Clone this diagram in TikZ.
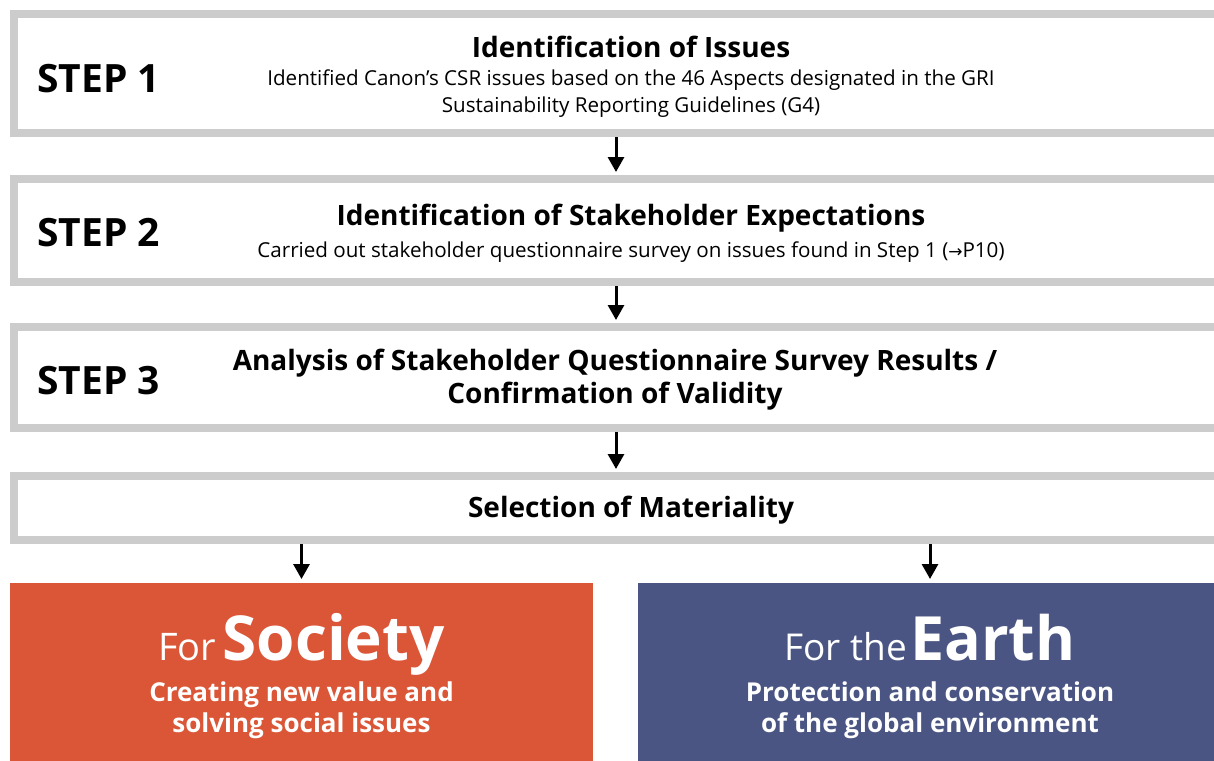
\documentclass[tikz,border=0pt]{standalone}
\usepackage{fontspec}
\setmainfont{Open Sans}
\newfontfamily\symfont{DejaVu Sans}
\usetikzlibrary{arrows.meta}
\definecolor{boxgray}{HTML}{CCCCCC}
\definecolor{socred}{HTML}{DB5537}
\definecolor{earthblue}{HTML}{4A5583}
\tikzset{
  stepbox/.style={draw=boxgray, line width=8pt, fill=white, minimum width=1204pt, inner sep=0pt},
  goalbox/.style={fill=#1, minimum width=583pt, minimum height=200pt, inner sep=0pt},
  steplbl/.style={font=\fontsize{39}{44}\selectfont\bfseries, anchor=west, inner sep=0pt},
  ttl/.style={font=\fontsize{28}{33}\selectfont\bfseries, align=center, inner sep=0pt},
  sub/.style={font=\fontsize{20.6}{27}\selectfont, align=center, inner sep=0pt},
  goalsub/.style={font=\fontsize{26}{31}\selectfont\bfseries, align=center, text=white, inner sep=0pt},
  flow/.style={line width=3pt, -{Triangle[width=16pt,length=15pt]}, shorten >=3pt}
}
\begin{document}
\begin{tikzpicture}[x=1pt, y=-1pt]
  %%%%% START %%%%%
  \useasboundingbox (0,0) rectangle (1214,760);
  \clip (0,0) rectangle (1214,760);

  \node[stepbox, minimum height=119pt] (s1) at (616,73.5) {};
  \node[stepbox, minimum height=103pt] (s2) at (616,230.5) {};
  \node[stepbox, minimum height=101pt] (s3) at (616,377.5) {};
  \node[stepbox, minimum height=64pt] (sel) at (616,508) {};

  \node[goalbox=socred, anchor=north] (soc) at (301.5,583) {};
  \node[goalbox=earthblue, minimum width=584pt, anchor=north] (earth) at (930,583) {};

  % step 1
  \node[steplbl] (l1) at (37,79) {STEP 1};
  \node[ttl] (t1) at (631,47) {Identification of Issues};
  \node[sub] (d1) at (631,94) {Identified Canon’s CSR issues based on the 46 Aspects designated in the GRI\\Sustainability Reporting Guidelines (G4)};

  % step 2
  \node[steplbl] (l2) at (37,233) {STEP 2};
  \node[ttl] (t2) at (631,218) {Identification of Stakeholder Expectations};
  \node[sub] (d2) at (631,252) {Carried out stakeholder questionnaire survey on issues found in Step 1 ({\symfont\fontsize{17}{20}\selectfont →}P10)};

  % step 3
  \node[steplbl] (l3) at (37,381) {STEP 3};
  \node[ttl] (t3) at (615,380) {Analysis of Stakeholder Questionnaire Survey Results /\\Confirmation of Validity};

  \node[ttl] (t4) at (631,510) {Selection of Materiality};

  % goals
  \node[text=white, anchor=base, inner sep=0pt] (h1) at (301.5,660)
    {\fontsize{38}{44}\selectfont For\,\fontsize{62}{70}\selectfont\bfseries Society};
  \node[goalsub] (g1) at (301.5,710) {Creating new value and\\solving social issues};
  \node[text=white, anchor=base, inner sep=0pt] (h2) at (930,660)
    {\fontsize{37}{44}\selectfont For the\kern3pt\fontsize{61}{70}\selectfont\bfseries Earth};
  \node[goalsub] (g2) at (930,710) {Protection and conservation\\of the global environment};

  % arrows
  \draw[flow] (s1) -- (s2);
  \draw[flow] (s2) -- (s3);
  \draw[flow] (s3) -- (sel);
  \draw[flow, shorten >=4pt] (sel.south -| soc.north) -- (soc.north);
  \draw[flow, shorten >=4pt] (sel.south -| earth.north) -- (earth.north);
  %%%%% END %%%%%
\end{tikzpicture}
\end{document}
